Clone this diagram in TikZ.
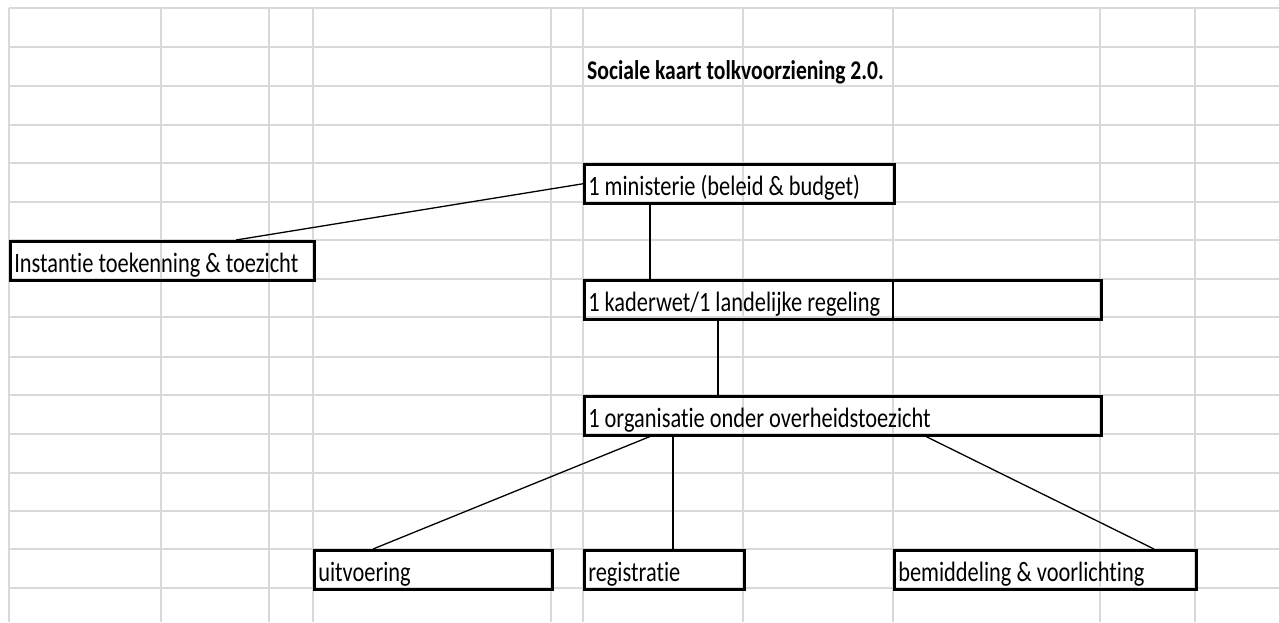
\documentclass[tikz,border=0pt]{standalone}
\usepackage{fontspec}
\setmainfont[FakeStretch=0.8, Ligatures={NoCommon}]{Carlito}
\usetikzlibrary{calc}
\tikzset{
  gridline/.style={draw=black!15, line width=2pt},
  cellbox/.style={draw=black, line width=2.5pt, anchor=north west, inner xsep=4pt, inner ysep=0pt,
    text height=31pt, text depth=8pt, align=flush left, font=\fontsize{28pt}{32pt}\selectfont},
  link/.style={draw=black, line width=1.3pt},
  titletext/.style={anchor=base west, inner sep=0pt, font=\fontsize{27pt}{31pt}\selectfont\bfseries}
}
\begin{document}
\begin{tikzpicture}[x=1pt,y=-1pt]
\useasboundingbox (0,0) rectangle (1279,622);
\fill[white] (0,0) rectangle (1279,622);
% grid
\foreach \yy in {8,47,86,125,163,202,240,279,317,357,395,434,473,511,549,588}
  \draw[gridline] (9,\yy) -- (1279,\yy);
\foreach \xx in {9,161,269,313,551,583,743,893,1100,1195}
  \draw[gridline] (\xx,8) -- (\xx,622);
% title
\node[titletext] (title) at (587,79) {Sociale kaart tolkvoorziening 2.0.};
% boxes
\node[cellbox, text width=302pt] (min) at (583,163) {1 ministerie (beleid \& budget)};
\node[cellbox, text width=296pt] (inst) at (9,240) {Instantie toekenning \& toezicht};
\node[cellbox, text width=509pt] (kad) at (583,279) {1 kaderwet/1 landelijke regeling};
\node[cellbox, text width=509pt] (org) at (583,395) {1 organisatie onder overheidstoezicht};
\node[cellbox, text width=230pt] (uit) at (313,549) {uitvoering};
\node[cellbox, text width=152pt] (reg) at (583,549) {registratie};
\node[cellbox, text width=294pt] (bem) at (893,549) {bemiddeling \& voorlichting};
% divider inside kaderwet box
\draw[draw=black, line width=2.5pt] ([xshift=310pt]kad.north west) -- ([xshift=310pt]kad.south west);
% connectors
\draw[link] (min.west) -- ([xshift=227pt]inst.north west);
\draw[link] ([xshift=67pt]min.south west) -- ([xshift=67pt]kad.north west);
\draw[link] ([xshift=135pt]kad.south west) -- ([xshift=135pt]org.north west);
\draw[link] ([xshift=67pt]org.south west) -- ([xshift=60pt]uit.north west);
\draw[link] ([xshift=90pt]org.south west) -- ([xshift=90pt]reg.north west);
\draw[link] ([xshift=343pt]org.south west) -- ([xshift=261pt]bem.north west);
\end{tikzpicture}
\end{document}
